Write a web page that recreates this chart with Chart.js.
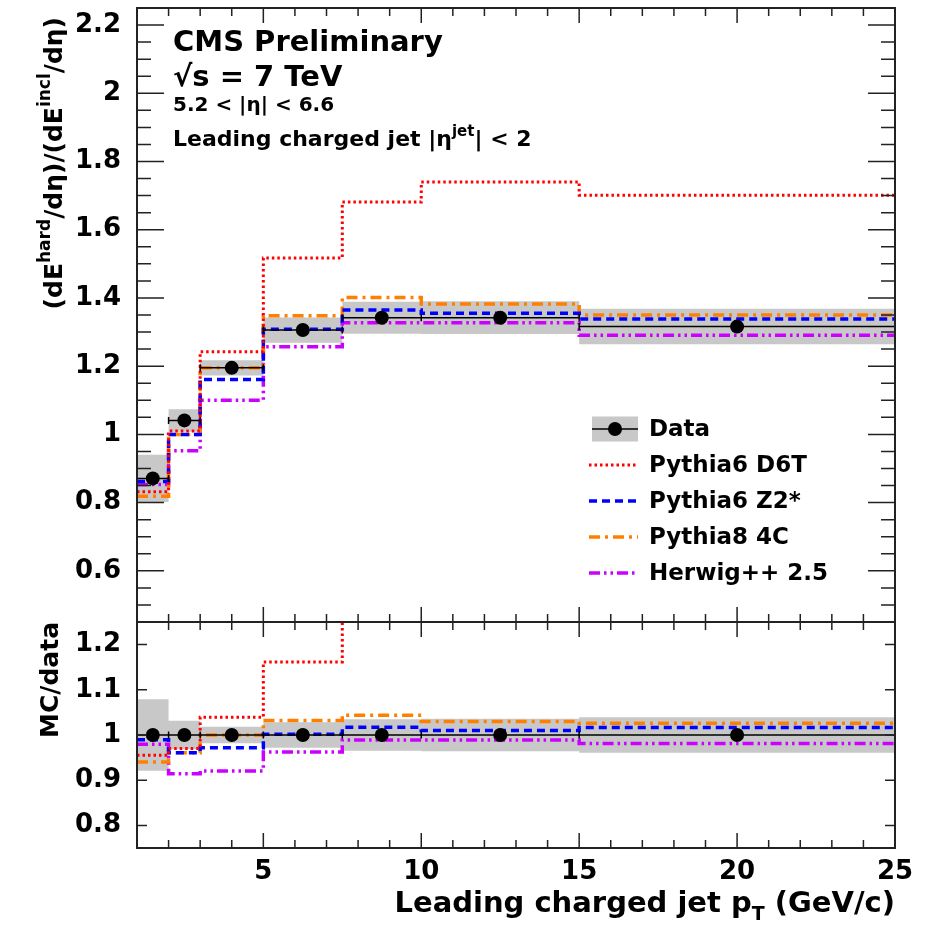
<!DOCTYPE html>
<html>
<head>
<meta charset="utf-8">
<title>Hard / inclusive energy flow ratio</title>
<script src="https://cdn.jsdelivr.net/npm/chart.js@4/dist/chart.umd.min.js"></script>
<style>
  html, body { margin: 0; padding: 0; background: #fff; }
  #wrap { position: relative; width: 930px; height: 926px; overflow: hidden; }
  canvas { position: absolute; left: 0; }
  #main { top: 0; }
  #ratio { top: 600px; }
</style>
</head>
<body>
<div id="wrap">
  <canvas id="main" width="930" height="640"></canvas>
  <canvas id="ratio" width="930" height="326"></canvas>
</div>
<script>
// bins in leading charged jet pT (GeV/c)
const binEdges = [1, 2, 3, 5, 7.5, 10, 15, 25];
const binCenters = [1.5, 2.5, 4, 6.25, 8.75, 12.5, 20];

// measured ratio and its systematic half-width
const dataValues = [0.871, 1.041, 1.195, 1.306, 1.342, 1.342, 1.316];
const dataSyst = [0.069, 0.033, 0.022, 0.037, 0.047, 0.048, 0.052];

// generator predictions
const d6tValues = [0.832, 1.010, 1.242, 1.517, 1.681, 1.740, 1.701];
const z2Values = [0.862, 1.000, 1.161, 1.308, 1.365, 1.355, 1.338];
const p8Values = [0.819, 1.000, 1.195, 1.348, 1.401, 1.382, 1.350];
const herwigValues = [0.853, 0.952, 1.100, 1.257, 1.327, 1.327, 1.291];

const mainYTicks = [0.6, 0.8, 1, 1.2, 1.4, 1.6, 1.8, 2, 2.2];
const ratioYTicks = [0.8, 0.9, 1, 1.1, 1.2];
const xTicks = [5, 10, 15, 20, 25];

const FONT = "'DejaVu Sans'";
const bandColor = '#c8c8c8';

const models = [
  { label: 'Pythia6 D6T', values: d6tValues, color: '#ff0000', width: 3, dash: [2.5, 3] },
  { label: 'Pythia6 Z2*', values: z2Values, color: '#0000ff', width: 3.5, dash: [8, 5] },
  { label: 'Pythia8 4C', values: p8Values, color: '#ff8000', width: 3.5, dash: [11, 5, 3, 5] },
  { label: 'Herwig++ 2.5', values: herwigValues, color: '#cc00ff', width: 3.5, dash: [11, 4, 2.5, 4, 2.5, 4] }
];

// histogram outline: flat over each bin, vertical at the edges
function boxPoints(vals) {
  const pts = [];
  vals.forEach((v, i) => pts.push({ x: binEdges[i], y: v }, { x: binEdges[i + 1], y: v }));
  return pts;
}

// separate horizontal bars, one per bin
function binSegments(vals) {
  const pts = [];
  vals.forEach((v, i) => pts.push({ x: binEdges[i], y: v }, { x: binEdges[i + 1], y: v }, { x: binEdges[i + 1], y: null }));
  return pts;
}

function panelDatasets(points, lo, hi, modelSets, modelClip) {
  return [
    { data: binCenters.map((x, i) => ({ x, y: points[i] })), showLine: false,
      pointRadius: 7, pointBackgroundColor: '#000', pointBorderWidth: 0 },
    { data: binSegments(points), borderColor: '#000', borderWidth: 1.5, pointRadius: 0 },
    ...modelSets.map(m => ({
      data: boxPoints(m.values), borderColor: m.color, borderWidth: m.width,
      borderDash: m.dash, pointRadius: 0, clip: modelClip
    })),
    { data: boxPoints(hi), borderColor: 'rgba(0,0,0,0)', borderWidth: 1, pointRadius: 0,
      fill: '+1', backgroundColor: bandColor },
    { data: boxPoints(lo), borderColor: 'rgba(0,0,0,0)', borderWidth: 1, pointRadius: 0, fill: false }
  ];
}

function yAxis(min, max, tickList) {
  return {
    position: 'left', min, max,
    grid: { display: false }, border: { display: false },
    afterBuildTicks: s => { s.ticks = tickList.map(v => ({ value: v })); },
    afterFit: s => { s.width = 137; s.paddingTop = 0; s.paddingBottom = 0; },
    ticks: { padding: 8, color: '#000', font: { family: FONT, size: 26, weight: 'bold' },
             callback: v => String(+v.toFixed(2)) }
  };
}

// text made of plain / superscript / subscript pieces, right-aligned at (0,0)
function drawRich(ctx, parts, size, small, shift) {
  const fontFor = p => `bold ${p[1] ? small : size}px ${FONT}`;
  let total = 0;
  parts.forEach(p => { ctx.font = fontFor(p); total += ctx.measureText(p[0]).width; });
  let x = -total;
  parts.forEach(p => {
    ctx.font = fontFor(p);
    ctx.fillText(p[0], x, p[1] * shift);
    x += ctx.measureText(p[0]).width;
  });
}

// closed frame with inward ticks on all four sides, plus bin-edge caps of the data bars
const framePlugin = {
  id: 'frame',
  afterDatasetsDraw(chart, args, o) {
    const { ctx, chartArea: a } = chart;
    const x = chart.scales.x, y = chart.scales.y;
    ctx.save();
    ctx.strokeStyle = '#000';
    ctx.lineWidth = 1.5;
    ctx.beginPath();
    o.capValues.forEach((v, i) => {
      const py = y.getPixelForValue(v);
      [binEdges[i], binEdges[i + 1]].forEach(e => {
        const px = x.getPixelForValue(e);
        ctx.moveTo(px, py - 3.5); ctx.lineTo(px, py + 3.5);
      });
    });
    ctx.stroke();

    ctx.strokeStyle = '#222';
    ctx.beginPath();
    for (let v = Math.ceil(x.min); v <= x.max; v++) {
      const px = x.getPixelForValue(v);
      const len = v % 5 === 0 ? o.xMajor : o.xMinor;
      ctx.moveTo(px, a.bottom); ctx.lineTo(px, a.bottom - len);
      ctx.moveTo(px, a.top); ctx.lineTo(px, a.top + len);
    }
    const n0 = Math.ceil(y.min / o.yStep - 1e-6);
    for (let k = n0; k * o.yStep <= y.max + 1e-9; k++) {
      const v = k * o.yStep;
      const r = v / o.yMajorStep;
      const len = Math.abs(r - Math.round(r)) < 1e-6 ? o.yMajor : o.yMinor;
      const py = y.getPixelForValue(v);
      ctx.moveTo(a.left, py); ctx.lineTo(a.left + len, py);
      ctx.moveTo(a.right, py); ctx.lineTo(a.right - len, py);
    }
    ctx.stroke();
    ctx.lineWidth = 2;
    ctx.strokeRect(a.left, a.top, a.right - a.left, a.bottom - a.top);
    ctx.restore();
  }
};

// labels, title block and legend of the upper panel
const mainText = {
  id: 'mainText',
  afterDraw(chart) {
    const { ctx, chartArea: a } = chart;
    ctx.save();
    ctx.fillStyle = '#000';
    ctx.textBaseline = 'alphabetic';
    const tx = a.left + 36;
    ctx.font = `bold 29px ${FONT}`;
    ctx.fillText('CMS Preliminary', tx, a.top + 43);
    ctx.fillText('\u221As = 7 TeV', tx, a.top + 78);
    ctx.font = `bold 20px ${FONT}`;
    ctx.fillText('5.2 < |\u03b7| < 6.6', tx, a.top + 103);
    ctx.save();
    ctx.translate(tx, a.top + 138);
    const line4 = [['Leading charged jet |\u03b7', 0], ['jet', -1], ['| < 2', 0]];
    let w = 0;
    line4.forEach(p => { ctx.font = `bold ${p[1] ? 15 : 22}px ${FONT}`; w += ctx.measureText(p[0]).width; });
    ctx.translate(w, 0);
    drawRich(ctx, line4, 22, 15, 10);
    ctx.restore();

    // y title
    ctx.save();
    ctx.translate(62, a.top + 9);
    ctx.rotate(-Math.PI / 2);
    drawRich(ctx, [['(dE', 0], ['hard', -1], ['/d\u03b7)/(dE', 0], ['incl', -1], ['/d\u03b7)', 0]], 25, 17, 12);
    ctx.restore();

    // legend
    const x0 = a.left + 455, x1 = x0 + 46, lx = x1 + 11;
    let ly = a.top + 421;
    ctx.font = `bold 23px ${FONT}`;
    ctx.textBaseline = 'middle';
    ctx.fillStyle = bandColor;
    ctx.fillRect(x0, ly - 12.5, x1 - x0, 25);
    ctx.strokeStyle = '#000';
    ctx.lineWidth = 1.5;
    ctx.beginPath(); ctx.moveTo(x0, ly); ctx.lineTo(x1, ly); ctx.stroke();
    ctx.fillStyle = '#000';
    ctx.beginPath(); ctx.arc((x0 + x1) / 2, ly, 7, 0, Math.PI * 2); ctx.fill();
    ctx.fillText('Data', lx, ly + 1);
    models.forEach(m => {
      ly += 36;
      ctx.strokeStyle = m.color;
      ctx.lineWidth = m.width;
      ctx.setLineDash(m.dash);
      ctx.beginPath(); ctx.moveTo(x0 - 3, ly); ctx.lineTo(x1, ly); ctx.stroke();
      ctx.setLineDash([]);
      ctx.fillText(m.label, lx, ly + 1);
    });
    ctx.restore();
  }
};

const ratioText = {
  id: 'ratioText',
  afterDraw(chart) {
    const { ctx, chartArea: a } = chart;
    ctx.save();
    ctx.fillStyle = '#000';
    ctx.save();
    ctx.translate(58, a.top);
    ctx.rotate(-Math.PI / 2);
    drawRich(ctx, [['MC/data', 0]], 25, 25, 0);
    ctx.restore();
    ctx.translate(a.right, a.bottom + 64);
    drawRich(ctx, [['Leading charged jet p', 0], ['T', 1], [' (GeV/c)', 0]], 29, 19, 8);
    ctx.restore();
  }
};

const common = {
  responsive: false,
  animation: false,
  devicePixelRatio: 1,
  plugins: { legend: { display: false }, tooltip: { enabled: false } }
};

new Chart(document.getElementById('main'), {
  type: 'line',
  data: { datasets: panelDatasets(dataValues,
    dataValues.map((v, i) => v - dataSyst[i]),
    dataValues.map((v, i) => v + dataSyst[i]), models, undefined) },
  options: {
    ...common,
    layout: { padding: { top: 8, bottom: 18, left: 0, right: 35 } },
    scales: {
      x: { type: 'linear', min: 1, max: 25, display: false },
      y: yAxis(0.45, 2.25, mainYTicks)
    },
    plugins: {
      ...common.plugins,
      frame: { capValues: dataValues, xMajor: 15, xMinor: 8, yStep: 0.05, yMajorStep: 0.2, yMajor: 27, yMinor: 14 }
    }
  },
  plugins: [framePlugin, mainText]
});

const ratioModels = models.map(m => ({ ...m, values: m.values.map((v, i) => v / dataValues[i]) }));
const ones = dataValues.map(() => 1);

new Chart(document.getElementById('ratio'), {
  type: 'line',
  data: { datasets: panelDatasets(ones,
    dataValues.map((v, i) => 1 - dataSyst[i] / v),
    dataValues.map((v, i) => 1 + dataSyst[i] / v), ratioModels, 0) },
  options: {
    ...common,
    layout: { padding: { top: 22, bottom: 0, left: 0, right: 35 } },
    scales: {
      x: {
        type: 'linear', min: 1, max: 25,
        grid: { display: false }, border: { display: false },
        afterBuildTicks: s => { s.ticks = xTicks.map(v => ({ value: v })); },
        afterFit: s => { s.height = 78; s.paddingLeft = 0; s.paddingRight = 0; },
        ticks: { padding: 1, autoSkip: false, maxRotation: 0, color: '#000',
                 font: { family: FONT, size: 26, weight: 'bold' }, callback: v => String(v) }
      },
      y: yAxis(0.75, 1.25, ratioYTicks)
    },
    plugins: {
      ...common.plugins,
      frame: { capValues: ones, xMajor: 15, xMinor: 8, yStep: 0.1, yMajorStep: 0.1, yMajor: 10, yMinor: 10 }
    }
  },
  plugins: [framePlugin, ratioText]
});
</script>
</body>
</html>
